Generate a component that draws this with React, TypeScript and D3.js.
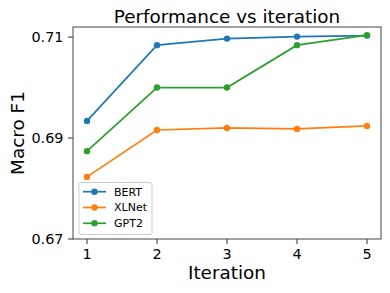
import React, { useEffect, useRef } from "react";
import * as d3 from "d3";

const iterations = [1, 2, 3, 4, 5];
const bertF1 = [0.6934, 0.7084, 0.7097, 0.7101, 0.7103];
const xlnetF1 = [0.6823, 0.6916, 0.692, 0.6918, 0.6924];
const gpt2F1 = [0.6874, 0.7, 0.7, 0.7084, 0.7104];
const yTicks = [0.67, 0.69, 0.71];

const series = [
  { name: "BERT", values: bertF1, color: "#1f77b4" },
  { name: "XLNet", values: xlnetF1, color: "#ff7f0e" },
  { name: "GPT2", values: gpt2F1, color: "#2ca02c" },
];

const W = 390;
const H = 293;
const FONT = "DejaVu Sans, sans-serif";

const App = () => {
  const svgRef = useRef<SVGSVGElement>(null);

  useEffect(() => {
    const svg = d3.select(svgRef.current);
    svg.selectAll("*").remove();

    const left = 73, right = 381, top = 27, bottom = 239;

    // matplotlib-ish 5% padding on x
    const x = d3.scaleLinear().domain([0.8, 5.2]).range([left, right]);
    const y = d3.scaleLinear().domain([0.67, 0.712]).range([bottom, top]);

    svg.append("rect").attr("width", W).attr("height", H).attr("fill", "#fff");

    // title
    svg.append("text")
      .attr("x", (left + right) / 2)
      .attr("y", 23)
      .attr("text-anchor", "middle")
      .attr("font-size", 18.4)
      .text("Performance vs iteration");

    // y ticks
    const yAxis = svg.append("g");
    yTicks.forEach(t => {
      yAxis.append("line")
        .attr("x1", left - 5).attr("x2", left)
        .attr("y1", y(t)).attr("y2", y(t))
        .attr("stroke", "#333").attr("stroke-width", 1);
      yAxis.append("text")
        .attr("x", left - 9.5)
        .attr("y", y(t))
        .attr("dy", "0.36em")
        .attr("text-anchor", "end")
        .attr("font-size", 14.4)
        .text(d3.format(".2f")(t));
    });

    // x ticks
    const xAxis = svg.append("g");
    iterations.forEach(t => {
      xAxis.append("line")
        .attr("x1", x(t)).attr("x2", x(t))
        .attr("y1", bottom).attr("y2", bottom + 5)
        .attr("stroke", "#333").attr("stroke-width", 1);
      xAxis.append("text")
        .attr("x", x(t))
        .attr("y", 258.5)
        .attr("text-anchor", "middle")
        .attr("font-size", 14.4)
        .text(t);
    });

    // axis labels
    svg.append("text")
      .attr("x", (left + right) / 2)
      .attr("y", 278.5)
      .attr("text-anchor", "middle")
      .attr("font-size", 18.4)
      .text("Iteration");

    svg.append("text")
      .attr("transform", `translate(23.5, ${(top + bottom) / 2}) rotate(-90)`)
      .attr("text-anchor", "middle")
      .attr("font-size", 18.4)
      .text("Macro F1");

    // lines
    const line = d3.line<number>()
      .x((d, i) => x(iterations[i]))
      .y(d => y(d));

    series.forEach(s => {
      const g = svg.append("g");
      g.append("path")
        .attr("d", line(s.values))
        .attr("fill", "none")
        .attr("stroke", s.color)
        .attr("stroke-width", 1.7);
      g.selectAll("circle")
        .data(s.values)
        .enter()
        .append("circle")
        .attr("cx", (d, i) => x(iterations[i]))
        .attr("cy", d => y(d))
        .attr("r", 3.2)
        .attr("fill", s.color);
    });

    // frame
    svg.append("rect")
      .attr("x", left).attr("y", top)
      .attr("width", right - left).attr("height", bottom - top)
      .attr("fill", "none")
      .attr("stroke", "#444")
      .attr("stroke-width", 1);

    // legend
    const legend = svg.append("g");
    legend.append("rect")
      .attr("x", 79).attr("y", 182.5)
      .attr("width", 73).attr("height", 52)
      .attr("rx", 2)
      .attr("fill", "rgba(255,255,255,0.8)")
      .attr("stroke", "#ccc")
      .attr("stroke-width", 1);

    series.forEach((s, i) => {
      const ly = 191.7 + i * 15.8;
      legend.append("line")
        .attr("x1", 83).attr("x2", 106)
        .attr("y1", ly).attr("y2", ly)
        .attr("stroke", s.color).attr("stroke-width", 1.7);
      legend.append("circle")
        .attr("cx", 94.5).attr("cy", ly).attr("r", 3.2)
        .attr("fill", s.color);
      legend.append("text")
        .attr("x", 114)
        .attr("y", ly)
        .attr("dy", "0.36em")
        .attr("font-size", 11)
        .text(s.name);
    });
  }, []);

  return (
    <svg
      ref={svgRef}
      width={W}
      height={H}
      fontFamily={FONT}
      style={{ position: "absolute", left: 0, top: 0, display: "block" }}
    />
  );
};

export default App;
